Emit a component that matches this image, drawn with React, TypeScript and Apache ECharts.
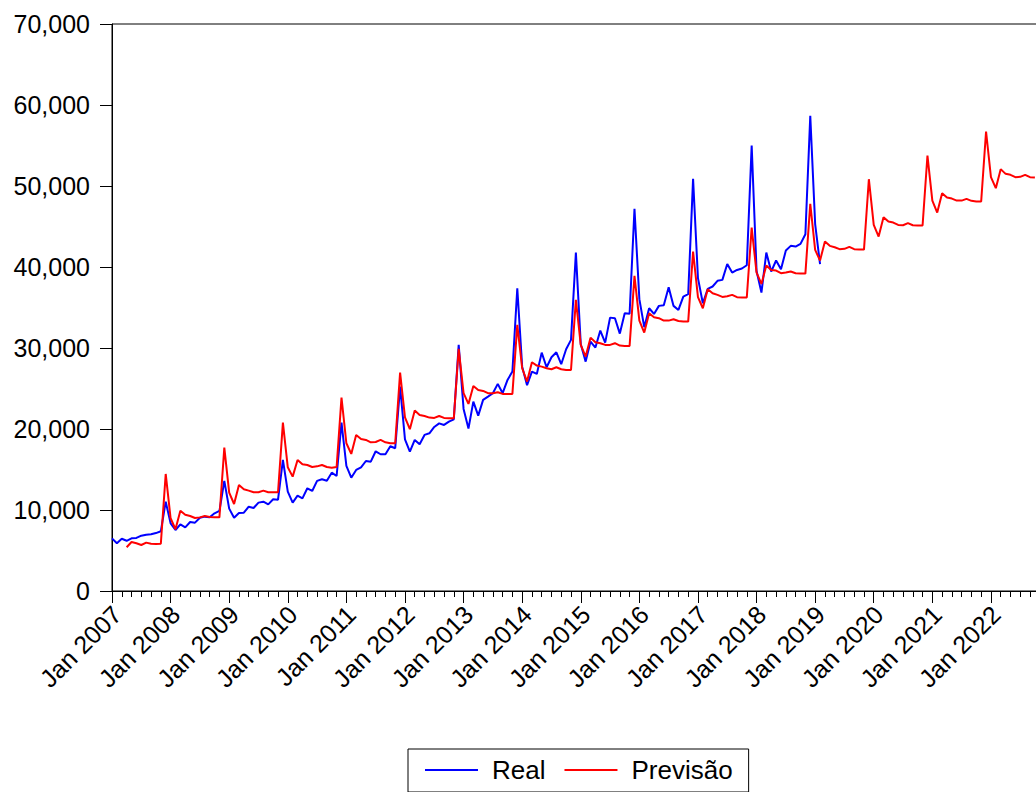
import React, { useEffect, useRef } from "react";
import * as echarts from "echarts";

const MONTHS = ["Jan", "Feb", "Mar", "Apr", "May", "Jun", "Jul", "Aug", "Sep", "Oct", "Nov", "Dec"];
const FIRST_YEAR = 2007;
const LAST_YEAR = 2022;

// Real: Jan 2007 .. Feb 2019
const real2007 = [6500, 5900, 6450, 6200, 6500, 6550, 6830, 6950, 7000, 7150, 7370, 11030];
const real2008 = [8350, 7530, 8230, 7860, 8520, 8440, 9050, 9180, 9100, 9590, 9880, 13590];
const real2009 = [10170, 9050, 9630, 9670, 10410, 10250, 10910, 11030, 10700, 11320, 11280, 16180];
const real2010 = [12270, 10910, 11770, 11440, 12680, 12350, 13590, 13790, 13620, 14610, 14200, 20790];
const real2011 = [15440, 13990, 14940, 15270, 16050, 15970, 17250, 16880, 16880, 17870, 17620, 25230];
const real2012 = [18730, 17200, 18650, 18120, 19270, 19470, 20250, 20700, 20500, 20910, 21200, 30380];
const real2013 = [22480, 20050, 23380, 21650, 23590, 24000, 24420, 25570, 24420, 26060, 27090, 37380];
const real2014 = [27700, 25400, 27090, 26800, 29430, 27620, 28860, 29470, 28000, 29850, 31000, 41780];
const real2015 = [30470, 28320, 30790, 30050, 32150, 30670, 33750, 33680, 31780, 34300, 34220, 47200];
const real2016 = [36030, 32570, 34910, 34210, 35200, 35280, 37510, 35200, 34700, 36350, 36640, 50880];
const real2017 = [38620, 35530, 37300, 37590, 38290, 38410, 40380, 39310, 39640, 39810, 40220, 55000];
const real2018 = [39500, 36840, 41780, 39440, 40800, 39730, 42030, 42610, 42520, 42850, 44050, 58660];
const real2019 = [45300, 40350];

// Previsão: Apr 2007 .. Oct 2022
const FORECAST_START_MONTH = 3; // Apr 2007
const prev2007 = [5400, 6050, 5890, 5680, 5970, 5840, 5800, 5840, 14450];
const prev2008 = [8980, 7620, 9920, 9420, 9260, 9010, 9090, 9260, 9130, 9090, 9090, 17700];
const prev2009 = [12140, 10740, 13090, 12560, 12390, 12190, 12190, 12390, 12190, 12190, 12190, 20790];
const prev2010 = [15270, 14120, 16180, 15640, 15560, 15310, 15390, 15560, 15310, 15230, 15310, 23880];
const prev2011 = [18240, 16920, 19270, 18770, 18650, 18360, 18400, 18650, 18360, 18240, 18240, 26960];
const prev2012 = [21450, 19970, 22270, 21740, 21610, 21410, 21370, 21610, 21370, 21330, 21330, 29900];
const prev2013 = [24420, 23100, 25320, 24820, 24700, 24420, 24420, 24540, 24330, 24330, 24330, 32850];
const prev2014 = [27500, 25850, 28240, 27830, 27700, 27500, 27380, 27620, 27380, 27290, 27290, 35940];
const prev2015 = [30380, 28940, 31280, 30710, 30590, 30380, 30380, 30590, 30300, 30260, 30260, 38900];
const prev2016 = [33380, 31900, 34300, 33800, 33680, 33380, 33380, 33550, 33340, 33260, 33260, 41900];
const prev2017 = [36270, 34910, 37260, 36760, 36560, 36310, 36400, 36560, 36270, 36230, 36230, 44870];
const prev2018 = [39310, 37910, 40180, 39640, 39560, 39230, 39310, 39440, 39230, 39190, 39190, 47800];
const prev2019 = [42110, 40800, 43140, 42610, 42440, 42200, 42240, 42480, 42200, 42150, 42150, 50840];
const prev2020 = [45200, 43760, 46150, 45610, 45490, 45200, 45160, 45410, 45160, 45120, 45120, 53760];
const prev2021 = [48200, 46720, 49110, 48570, 48450, 48200, 48200, 48410, 48170, 48080, 48080, 56730];
const prev2022 = [51090, 49730, 52080, 51500, 51380, 51090, 51130, 51380, 51090, 51040];

const Y_TICKS = [0, 10000, 20000, 30000, 40000, 50000, 60000, 70000];

const categories: string[] = [];
for (let y = FIRST_YEAR; y <= LAST_YEAR; y++) {
  for (const m of MONTHS) categories.push(`${m} ${y}`);
}

const realValues = [
  ...real2007, ...real2008, ...real2009, ...real2010, ...real2011, ...real2012, ...real2013,
  ...real2014, ...real2015, ...real2016, ...real2017, ...real2018, ...real2019,
];
const prevValues = [
  ...prev2007, ...prev2008, ...prev2009, ...prev2010, ...prev2011, ...prev2012, ...prev2013,
  ...prev2014, ...prev2015, ...prev2016, ...prev2017, ...prev2018, ...prev2019, ...prev2020,
  ...prev2021, ...prev2022,
];

const realData = categories.map((_, i) => (i < realValues.length ? realValues[i] : null));
const prevData = categories.map((_, i) => {
  const k = i - FORECAST_START_MONTH;
  return k >= 0 && k < prevValues.length ? prevValues[k] : null;
});

const FONT = "'Liberation Sans', Arial, sans-serif";

export default function App() {
  const ref = useRef<HTMLDivElement>(null);
  useEffect(() => {
    if (!ref.current) return;
    const chart = echarts.init(ref.current, null, { renderer: "svg" });
    const monthPx = 4.883;
    const gridWidth = monthPx * (categories.length - 1);
    chart.setOption({
      animation: false,
      backgroundColor: "#fff",
      textStyle: { fontFamily: FONT, color: "#000" },
      grid: {
        left: 112,
        top: 24,
        width: gridWidth,
        height: 567,
        show: true,
        borderColor: "#000",
        borderWidth: 1,
        backgroundColor: "transparent",
        outerBoundsMode: "none",
        containLabel: false,
      },
      xAxis: [
        {
          type: "category",
          data: categories,
          boundaryGap: false,
          position: "bottom",
          axisLine: { show: true, onZero: false, lineStyle: { color: "#000", width: 1 } },
          axisTick: { show: true, interval: 1, length: 6, lineStyle: { color: "#000", width: 1 } },
          axisLabel: { show: false },
          splitLine: { show: false },
        },
        {
          type: "category",
          data: categories,
          boundaryGap: false,
          position: "bottom",
          axisLine: { show: false, onZero: false },
          axisTick: { show: true, interval: 11, length: 12, lineStyle: { color: "#000", width: 1 } },
          axisLabel: {
            show: true,
            interval: 11,
            rotate: 45,
            margin: 14,
            fontSize: 25,
            lineHeight: 14,
            verticalAlign: "top",
            fontFamily: FONT,
            color: "#000",
          },
          splitLine: { show: false },
        },
      ],
      yAxis: {
        type: "value",
        min: Y_TICKS[0],
        max: Y_TICKS[Y_TICKS.length - 1],
        interval: 10000,
        axisLine: { show: true, lineStyle: { color: "#000", width: 1 } },
        axisTick: { show: true, length: 12, lineStyle: { color: "#000", width: 1 } },
        splitLine: { show: false },
        axisLabel: {
          margin: 22,
          fontSize: 25,
          fontFamily: FONT,
          color: "#000",
          padding: [0, 0, 8, 0],
          formatter: (v: number) => v.toLocaleString("en-US"),
        },
      },
      legend: {
        left: 408,
        top: 749,
        orient: "horizontal",
        itemWidth: 53,
        itemHeight: 2,
        itemGap: 19,
        icon: "rect",
        padding: [8, 16, 9, 17],
        borderColor: "#000",
        borderWidth: 1,
        textStyle: { fontSize: 26, fontFamily: FONT, color: "#000", padding: [0, 0, 0, 9] },
        data: ["Real", "Previsão"],
      },
      series: [
        {
          name: "Real",
          type: "line",
          data: realData,
          xAxisIndex: 0,
          symbol: "none",
          color: "#0000ff",
          lineStyle: { color: "#0000ff", width: 2 },
          connectNulls: false,
        },
        {
          name: "Previsão",
          type: "line",
          data: prevData,
          xAxisIndex: 0,
          symbol: "none",
          color: "#ff0000",
          lineStyle: { color: "#ff0000", width: 2 },
          connectNulls: false,
        },
      ],
    });
    return () => chart.dispose();
  }, []);
  return (
    <div
      ref={ref}
      style={{ position: "absolute", left: 0, top: 0, width: 1036, height: 792, overflow: "hidden" }}
    />
  );
}
